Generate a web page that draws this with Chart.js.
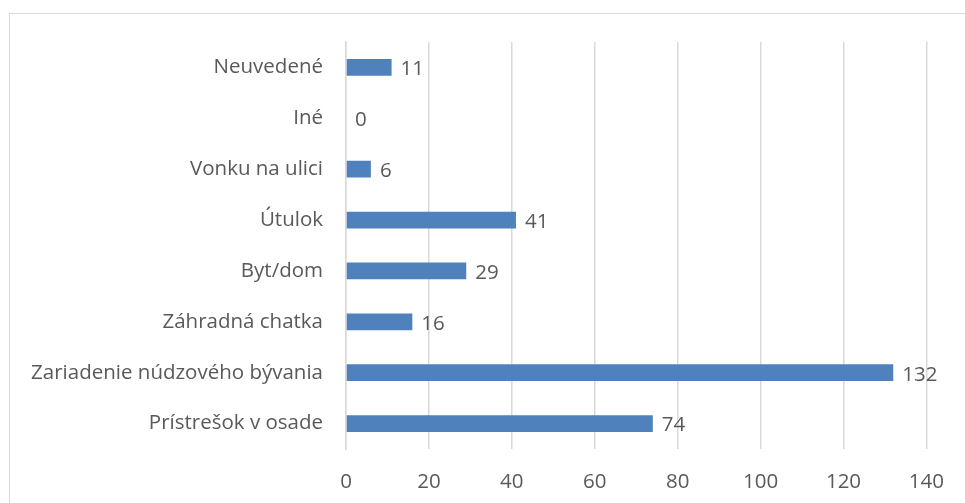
<!DOCTYPE html>
<html>
<head>
<meta charset="utf-8">
<script src="https://cdn.jsdelivr.net/npm/chart.js@4/dist/chart.umd.min.js"></script>
<style>
  html, body { margin: 0; padding: 0; background: #fff; overflow: hidden; }
  #wrap { position: relative; width: 965px; height: 503px; }
  #frame { position: absolute; left: 9px; top: 13px; width: 1000px; height: 600px; border: 1px solid #d9d9d9; box-sizing: border-box; }
  canvas { position: absolute; left: 0; top: 0; }
</style>
</head>
<body>
<div id="wrap">
  <div id="frame"></div>
  <canvas id="chart" width="965" height="503"></canvas>
</div>
<script>
const categories = [
  "Neuvedené",
  "Iné",
  "Vonku na ulici",
  "Útulok",
  "Byt/dom",
  "Záhradná chatka",
  "Zariadenie núdzového bývania",
  "Prístrešok v osade"
];
const values = [11, 0, 6, 41, 29, 16, 132, 74];
const xTicks = [0, 20, 40, 60, 80, 100, 120, 140];

const textColor = "#595959";
const fontFamily = "'Open Sans', 'Liberation Sans', sans-serif";
const fontSize = 20.5;

// draw value labels right of each bar
const valueLabels = {
  id: "valueLabels",
  afterDatasetsDraw(chart) {
    const ctx = chart.ctx;
    const meta = chart.getDatasetMeta(0);
    ctx.save();
    ctx.fillStyle = textColor;
    ctx.font = fontSize + "px " + fontFamily;
    ctx.textBaseline = "middle";
    ctx.textAlign = "left";
    meta.data.forEach((bar, i) => {
      ctx.fillText(String(values[i]), bar.x + 9, bar.y + 2);
    });
    ctx.restore();
  }
};

new Chart(document.getElementById("chart").getContext("2d"), {
  type: "bar",
  data: {
    labels: categories,
    datasets: [{
      data: values,
      backgroundColor: "#4f81bd",
      borderWidth: 0,
      barPercentage: 0.66,
      categoryPercentage: 0.5
    }]
  },
  options: {
    indexAxis: "y",
    responsive: false,
    animation: false,
    layout: { padding: { top: 42, right: 35, left: 0, bottom: 0 } },
    plugins: { legend: { display: false }, tooltip: { enabled: false } },
    scales: {
      x: {
        min: 0,
        max: 140,
        afterBuildTicks(scale) { scale.ticks = xTicks.map(v => ({ value: v })); },
        afterFit(scale) { scale.height = 54; },
        grid: { color: "#d9d9d9", lineWidth: 1.5, drawTicks: false },
        border: { display: false },
        ticks: { color: textColor, font: { family: fontFamily, size: fontSize }, padding: 21 }
      },
      y: {
        afterFit(scale) { scale.width = 346; },
        grid: { display: false, drawTicks: false },
        border: { display: true, color: "#d9d9d9", width: 1.5 },
        ticks: { color: textColor, font: { family: fontFamily, size: fontSize }, padding: 23 }
      }
    }
  },
  plugins: [valueLabels]
});
</script>
</body>
</html>
